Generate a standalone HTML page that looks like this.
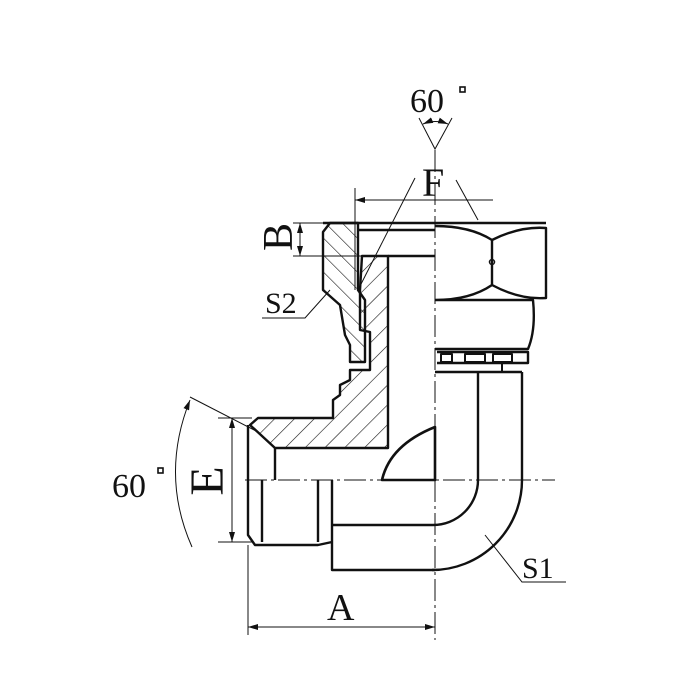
<!DOCTYPE html>
<html><head><meta charset="utf-8"><style>html,body{margin:0;padding:0;background:#fff}svg{display:block}</style></head>
<body>
<svg width="700" height="700" viewBox="0 0 700 700" xmlns="http://www.w3.org/2000/svg">
<defs>
<pattern id="h1" patternUnits="userSpaceOnUse" width="14" height="14" patternTransform="rotate(45)"><line x1="0" y1="0" x2="0" y2="14" stroke="#111" stroke-width="1.2"/></pattern>
<pattern id="h2" patternUnits="userSpaceOnUse" width="12" height="12" patternTransform="rotate(-45)"><line x1="0" y1="0" x2="0" y2="12" stroke="#111" stroke-width="1.2"/></pattern>
<marker id="ar" viewBox="0 0 10 6" refX="10" refY="3" markerWidth="10" markerHeight="6" orient="auto-start-reverse" markerUnits="userSpaceOnUse"><path d="M0,0 L10,3 L0,6 Z" fill="#111"/></marker>
</defs>
<g fill="none" stroke="#111" stroke-width="2.4" stroke-linejoin="round">
<path d="M362,256 L388,256 L388,448 L275,448 L250,425 L258,418 L333,418 L333,400 L340,395 L340,385 L350,380 L350,370 L370,370 L370,332 L360,330 L360,290 Z" fill="url(#h1)"/>
<path d="M330,223 L358,223 L358,290 L365,300 L365,362 L350,362 L350,345 L345,335 L340,305 L323,290 L323,232 Z" fill="url(#h2)"/>
<path d="M358,230 L435,230 M388,256 L435,256 M323,223 L546,223"/>
<path d="M435,226 Q470,226 492,240 L492,285 Q470,300 435,300 M492,240 Q520,226 546,228 L546,298 Q520,300 492,285 M435,300 L533,300 Q536,330 528,349 L435,349 M437,352 L528,352 L528,363 L437,363 M435,372 L522,372"/>
<path d="M441,354 h11 v8 h-11 z M465,354 h20 v8 h-20 z M493,354 h19 v8 h-19 z M502,363 v9" stroke-width="2"/>
<circle cx="492" cy="262" r="2.5" stroke-width="1.5"/>
<path d="M248,425 L248,535 L255,545 L318,545 L332,542 M262,480 L262,542 M318,480 L318,542 M275,448 L275,480 M332,480 L332,570 L435,570"/>
<path d="M332,525 L433,525 A45,45 0 0 0 478,480 L478,372 M522,372 L522,480 A90,90 0 0 1 432,570"/>
<path d="M435,427 Q390,445 382,480 L435,480 Z" stroke-width="2.6"/>
</g>
<g stroke="#111" stroke-width="1" stroke-dasharray="22,4,3,4" fill="none">
<line x1="435" y1="150" x2="435" y2="640"/>
<line x1="245" y1="480" x2="555" y2="480"/>
</g>
<g stroke="#111" stroke-width="1" fill="none">
<line x1="248" y1="545" x2="248" y2="635"/>
<line x1="248" y1="627" x2="435" y2="627" marker-start="url(#ar)" marker-end="url(#ar)"/>
<line x1="218" y1="418" x2="252" y2="418"/>
<line x1="218" y1="542" x2="252" y2="542"/>
<line x1="232" y1="418" x2="232" y2="542" marker-start="url(#ar)" marker-end="url(#ar)"/>
<line x1="190" y1="397" x2="258" y2="432"/>
<path d="M190,400 Q160,475 192,547" marker-start="url(#ar)"/>
<line x1="293" y1="223" x2="325" y2="223"/>
<line x1="293" y1="256" x2="362" y2="256"/>
<line x1="300" y1="223" x2="300" y2="256" marker-start="url(#ar)" marker-end="url(#ar)"/>
<line x1="355" y1="188" x2="355" y2="290"/>
<line x1="355" y1="200" x2="493" y2="200" marker-start="url(#ar)"/>
<line x1="415" y1="178" x2="358" y2="290"/>
<line x1="456" y1="180" x2="478" y2="220"/>
<path d="M262,318 L305,318 L330,290"/>
<path d="M485,535 L522,582 L566,582"/>
<path d="M419,118 L435,149 L452,118"/>
<path d="M423,124 Q435,119 448,124" marker-start="url(#ar)" marker-end="url(#ar)"/>
</g>
<g font-family="Liberation Serif, serif" fill="#111">
<text x="410" y="112" font-size="34">60</text>
<rect x="460" y="87" width="5" height="5" fill="none" stroke="#111" stroke-width="1.6"/>
<text x="422" y="196" font-size="40">F</text>
<text x="327" y="620" font-size="38">A</text>
<text x="265" y="313" font-size="30">S2</text>
<text x="522" y="578" font-size="30">S1</text>
<text x="112" y="497" font-size="34">60</text>
<rect x="158" y="468" width="5" height="5" fill="none" stroke="#111" stroke-width="1.6"/>
<text transform="translate(223,481) rotate(-90)" text-anchor="middle" font-size="48">E</text>
<text transform="translate(292,237) rotate(-90)" text-anchor="middle" font-size="42">B</text>
</g>
</svg>
</body></html>
